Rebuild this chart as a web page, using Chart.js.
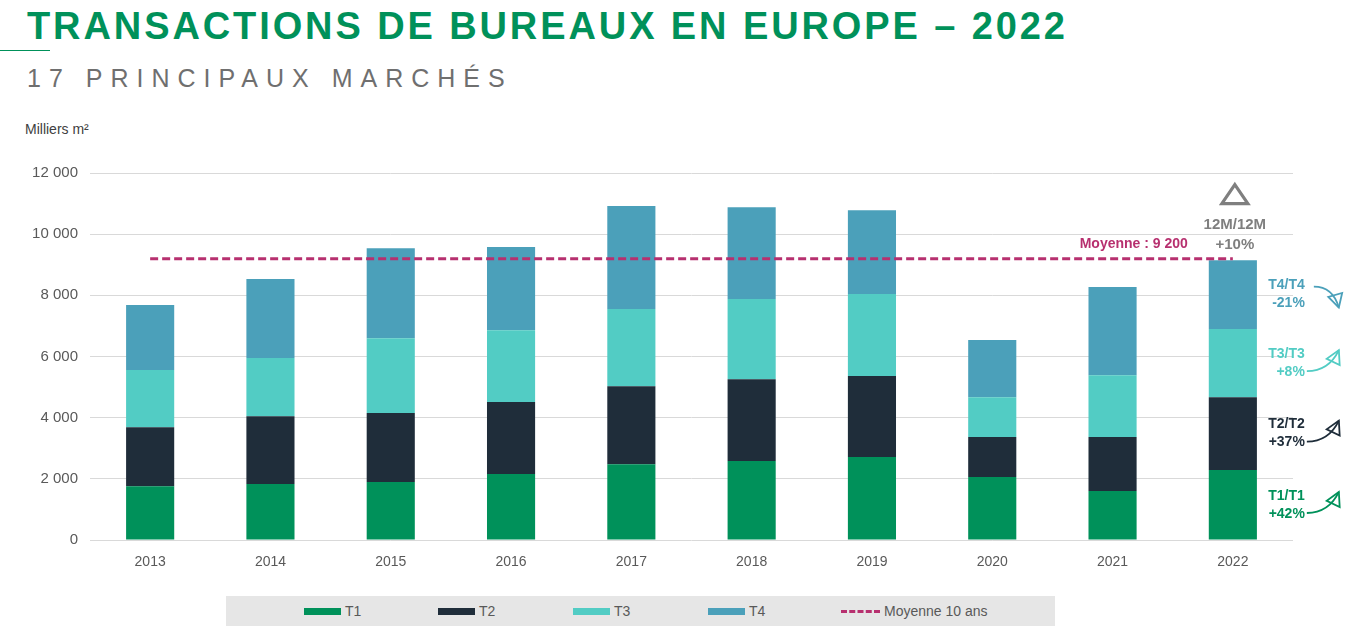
<!DOCTYPE html>
<html lang="fr">
<head>
<meta charset="utf-8">
<script src="https://cdn.jsdelivr.net/npm/chart.js@4"></script>
<style>
  body { margin: 0; width: 1352px; height: 634px; background: #fff; position: relative; overflow: hidden; font-family: "Liberation Sans", Arial, sans-serif; }
  .title { position: absolute; left: 27px; top: 5px; font-size: 38px; font-weight: bold; color: #00915a; letter-spacing: 2.9px; white-space: nowrap; }
  .rule { position: absolute; left: 0; top: 50px; width: 50px; height: 1px; background: #00915a; }
  .subtitle { position: absolute; left: 27px; top: 64px; font-size: 25px; color: #6f6f6f; letter-spacing: 8px; white-space: nowrap; }
  .unit { position: absolute; left: 25px; top: 121px; font-size: 14px; color: #404040; }
  .chart-box { position: absolute; left: 0; top: 150px; width: 1352px; height: 430px; }
  .legend { position: absolute; left: 226px; top: 596px; width: 829px; height: 30px; background: #e6e6e6; }
  .legend-item { position: absolute; top: 0; height: 30px; display: flex; align-items: center; font-size: 14px; color: #595959; }
  .swatch { width: 37px; height: 7px; margin-right: 4px; }
  .dash { width: 39px; height: 0; border-top: 3px dashed #b7306f; margin-right: 4px; }
</style>
</head>
<body>
<div class="title">TRANSACTIONS DE BUREAUX EN EUROPE – 2022</div>
<div class="rule"></div>
<div class="subtitle">17 PRINCIPAUX MARCHÉS</div>
<div class="unit">Milliers m²</div>
<div class="chart-box"><canvas id="chart"></canvas></div>
<div class="legend" id="legend"></div>
<script>
const YEARS = ["2013", "2014", "2015", "2016", "2017", "2018", "2019", "2020", "2021", "2022"];
const T1 = [1760, 1830, 1900, 2160, 2480, 2580, 2710, 2060, 1600, 2290];
const T2 = [1930, 2220, 2250, 2350, 2550, 2680, 2650, 1310, 1770, 2380];
const T3 = [1870, 1900, 2450, 2350, 2520, 2620, 2680, 1300, 2020, 2230];
const T4 = [2120, 2580, 2940, 2720, 3370, 3000, 2740, 1870, 2880, 2250];
const AVERAGE = 9200;
const AVERAGE_LINE = YEARS.map(() => AVERAGE);

const SERIES = [
  { label: "T1", data: T1, color: "#00915a", change: "+42%", up: true },
  { label: "T2", data: T2, color: "#1f2d3a", change: "+37%", up: true },
  { label: "T3", data: T3, color: "#52ccc4", change: "+8%", up: true },
  { label: "T4", data: T4, color: "#4ba0ba", change: "-21%", up: false },
];
const AVG_COLOR = "#b7306f";
const YEAR_CHANGE = "+10%";

const fmt = (v) => String(v).replace(/\B(?=(\d{3})+(?!\d))/g, " ");

// side notes next to the last bar
const notesPlugin = {
  id: "notes",
  afterDatasetsDraw(chart) {
    const { ctx, scales } = chart;
    const x = scales.x.getPixelForValue(YEARS.length - 1);
    const last = YEARS.length - 1;
    const textRight = x + 24 + 48;
    ctx.save();
    ctx.font = "bold 14px 'Liberation Sans', Arial, sans-serif";
    ctx.textBaseline = "middle";

    let base = 0;
    SERIES.forEach((s) => {
      const lo = base;
      const hi = base + s.data[last];
      base = hi;
      const cy = (scales.y.getPixelForValue(lo) + scales.y.getPixelForValue(hi)) / 2;
      ctx.fillStyle = s.color;
      ctx.textAlign = "right";
      ctx.fillText(`${s.label}/${s.label}`, textRight, cy - 9);
      ctx.fillText(s.change, textRight, cy + 9);
      if (s.up) {
        drawArrow(ctx, textRight + 2, cy + 8, textRight + 34, cy - 13, textRight + 24, cy + 8, s.color);
      } else {
        drawArrow(ctx, textRight + 9, cy - 8, textRight + 34, cy + 13, textRight + 28, cy - 8, s.color);
      }
    });

    // average label
    const ya = scales.y.getPixelForValue(AVERAGE);
    ctx.fillStyle = AVG_COLOR;
    ctx.textAlign = "right";
    ctx.fillText(`Moyenne : ${fmt(AVERAGE)}`, x - 45, ya - 14);

    // 12M/12M block
    ctx.fillStyle = "#7f7f7f";
    ctx.textAlign = "center";
    ctx.font = "bold 15px 'Liberation Sans', Arial, sans-serif";
    ctx.fillText("12M/12M", x + 2, ya - 34);
    ctx.fillText(YEAR_CHANGE, x + 2, ya - 14);
    ctx.strokeStyle = "#7f7f7f";
    ctx.lineWidth = 3.2;
    ctx.lineJoin = "miter";
    ctx.beginPath();
    ctx.moveTo(x + 2, ya - 74);
    ctx.lineTo(x + 15, ya - 55);
    ctx.lineTo(x - 11, ya - 55);
    ctx.closePath();
    ctx.stroke();
    ctx.restore();
  },
};

function drawArrow(ctx, x0, y0, x1, y1, cx, cy, color) {
  ctx.strokeStyle = color;
  ctx.lineWidth = 1.8;
  ctx.lineJoin = "miter";
  ctx.beginPath();
  ctx.moveTo(x0, y0);
  ctx.quadraticCurveTo(cx, cy, x1, y1);
  ctx.stroke();
  const ang = Math.atan2(y1 - cy, x1 - cx);
  const len = 15;
  const half = 0.5;
  ctx.beginPath();
  ctx.moveTo(x1, y1);
  ctx.lineTo(x1 - len * Math.cos(ang - half), y1 - len * Math.sin(ang - half));
  ctx.lineTo(x1 - len * Math.cos(ang + half), y1 - len * Math.sin(ang + half));
  ctx.closePath();
  ctx.stroke();
}

const datasets = SERIES.map((s) => ({
  type: "bar",
  label: s.label,
  data: s.data,
  backgroundColor: s.color,
  barPercentage: 0.4,
  categoryPercentage: 1,
  order: 1,
}));
datasets.push({
  type: "line",
  label: "Moyenne 10 ans",
  data: AVERAGE_LINE,
  borderColor: AVG_COLOR,
  borderWidth: 3,
  borderDash: [8, 4],
  pointRadius: 0,
  fill: false,
  order: 0,
});

new Chart(document.getElementById("chart"), {
  type: "bar",
  data: { labels: YEARS, datasets },
  plugins: [notesPlugin],
  options: {
    responsive: true,
    maintainAspectRatio: false,
    animation: false,
    layout: { padding: { top: 23, right: 59, left: 0, bottom: 0 } },
    plugins: { legend: { display: false }, tooltip: { enabled: false } },
    scales: {
      x: {
        stacked: true,
        grid: { display: false },
        border: { display: false },
        ticks: { color: "#595959", font: { size: 14, family: "'Liberation Sans', Arial" }, padding: 6 },
        afterFit: (s) => { s.height = 40; },
      },
      y: {
        stacked: true,
        min: 0,
        max: 12000,
        grid: { color: "#d9d9d9", drawTicks: false },
        border: { display: false },
        ticks: {
          stepSize: 2000,
          color: "#595959",
          font: { size: 15, family: "'Liberation Sans', Arial" },
          padding: 12,
          callback: (v) => fmt(v),
        },
        afterFit: (s) => { s.width = 90; },
      },
    },
  },
});

// legend built from the series
const legend = document.getElementById("legend");
const lefts = [78, 212, 347, 482];
SERIES.forEach((s, i) => {
  const item = document.createElement("div");
  item.className = "legend-item";
  item.style.left = lefts[i] + "px";
  item.innerHTML = `<span class="swatch" style="background:${s.color}"></span>${s.label}`;
  legend.appendChild(item);
});
const avgItem = document.createElement("div");
avgItem.className = "legend-item";
avgItem.style.left = "615px";
avgItem.innerHTML = `<span class="dash"></span>Moyenne 10 ans`;
legend.appendChild(avgItem);
</script>
</body>
</html>
